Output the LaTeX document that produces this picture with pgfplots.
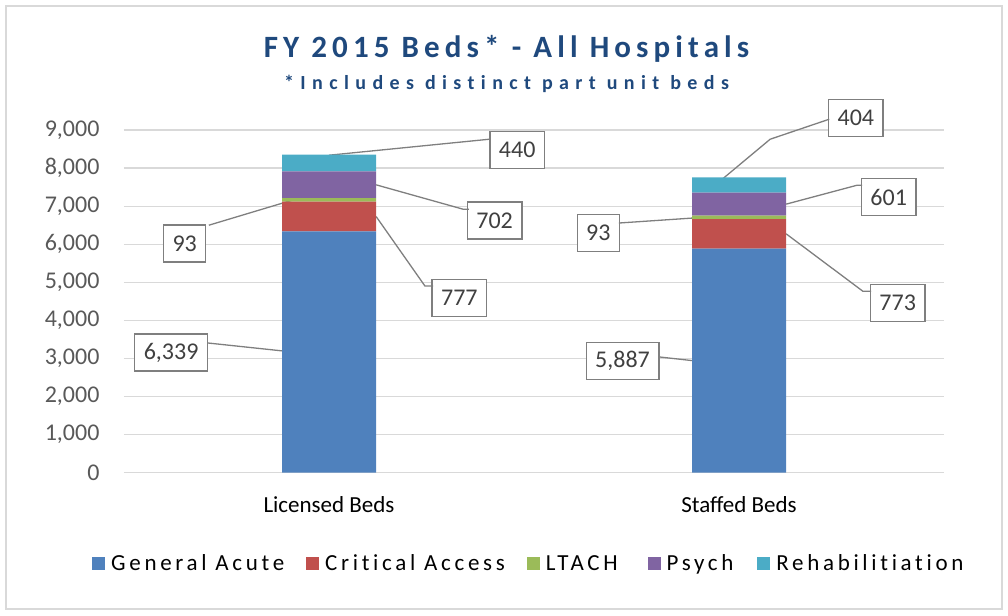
\documentclass[border=0pt]{standalone}
\usepackage{pgfplots}
\pgfplotsset{compat=1.18}
\usepackage{fontspec}
\setmainfont{Carlito}
\newfontfamily\titlefont[LetterSpace=16.5,Ligatures=NoCommon]{Carlito}
\newfontfamily\subfont[LetterSpace=32,Ligatures=NoCommon]{Carlito}
\newfontfamily\legfont[LetterSpace=16,Ligatures=NoCommon]{Carlito}
\definecolor{cBlue}{HTML}{4F81BD}
\definecolor{cRed}{HTML}{C0504D}
\definecolor{cGreen}{HTML}{9BBB59}
\definecolor{cPurple}{HTML}{8064A2}
\definecolor{cAqua}{HTML}{4BACC6}
\definecolor{titleblue}{HTML}{1F497D}
\definecolor{gridgray}{HTML}{D9D9D9}
\definecolor{framegray}{HTML}{D9D9D9}
\definecolor{tickgray}{HTML}{595959}
\definecolor{callgray}{HTML}{7F7F7F}
\definecolor{calltext}{HTML}{404040}
\tikzset{
  callout/.style={draw=callgray, line width=1.3pt, fill=white, text=calltext,
    font=\fontsize{24}{28}\selectfont, inner xsep=9pt, inner ysep=0pt, minimum height=37pt},
  leader/.style={draw=callgray, line width=1.3pt},
}
\begin{document}
\begin{tikzpicture}
\useasboundingbox (-124pt,-142.3pt) rectangle (884pt,472.7pt);
\draw[color=framegray, line width=1.5pt] (-118pt,-136.3pt) rectangle (878pt,466.7pt);
\begin{axis}[
  at={(0pt,0pt)}, anchor=south west,
  scale only axis, width=820pt, height=342.7pt,
  xmin=-0.5, xmax=1.5, ymin=0, ymax=9000,
  ytick={0,1000,...,9000},
  xtick={0,1}, xticklabels={Licensed Beds, Staffed Beds},
  ymajorgrids, grid style={gridgray, line width=1.3pt},
  axis line style={draw=none},
  major tick length=0pt,
  ybar stacked, bar width=94pt,
  clip=false,
  yticklabel style={font=\fontsize{24}{28}\selectfont, text=tickgray, xshift=-21pt},
  xticklabel style={font=\fontsize{23}{27}\selectfont, text=black, yshift=-20pt},
  /pgf/number format/1000 sep={,},
  /pgf/number format/assume math mode=true,
  legend columns=-1,
  legend style={at={(-0.039,-0.265)}, anchor=west, draw=none, fill=none,
    inner sep=0pt, font=\legfont\fontsize{23}{27}\selectfont,
    nodes={inner sep=0pt},
    /tikz/every even column/.append style={column sep=22pt},
    /tikz/every odd column/.append style={column sep=6pt}},
  legend image code/.code={\fill[#1] (0pt,-6.5pt) rectangle (13pt,6.5pt);},
]
\addplot[fill=cBlue, draw=none] coordinates {(0,6339) (1,5887)};
\addlegendentry{General Acute}
\addplot[fill=cRed, draw=none] coordinates {(0,777) (1,773)};
\addlegendentry{Critical Access}
\addplot[fill=cGreen, draw=none] coordinates {(0,93) (1,93)};
\addlegendentry{LTACH\rule{8pt}{0pt}}
\addplot[fill=cPurple, draw=none] coordinates {(0,702) (1,601)};
\addlegendentry{Psych\rule{2pt}{0pt}}
\addplot[fill=cAqua, draw=none] coordinates {(0,440) (1,404)};
\addlegendentry{Rehabilitiation}
% leader lines
\draw[leader] (axis cs:0,8338) -- (axis cs:0.393,8760);
\draw[leader] (axis cs:0.115,7560) -- (axis cs:0.327,6920) -- (axis cs:0.341,6920);
\draw[leader] (axis cs:0.115,6727) -- (axis cs:0.234,4903) -- (axis cs:0.254,4903);
\draw[leader] (axis cs:-0.293,6500) -- (axis cs:-0.088,7162);
\draw[leader] (axis cs:-0.295,3406) -- (axis cs:-0.088,3169);
\draw[leader] (axis cs:0.959,7707) -- (axis cs:1.076,8758) -- (axis cs:1.220,9283);
\draw[leader] (axis cs:1.115,7053) -- (axis cs:1.288,7550) -- (axis cs:1.300,7550);
\draw[leader] (axis cs:1.115,6273) -- (axis cs:1.302,4767) -- (axis cs:1.322,4767);
\draw[leader] (axis cs:0.707,6557) -- (axis cs:0.912,6706);
\draw[leader] (axis cs:0.807,3038) -- (axis cs:0.917,2907);
% callouts
\node[callout] at (axis cs:0.459,8474) {440};
\node[callout] at (axis cs:0.404,6623) {702};
\node[callout] at (axis cs:0.318,4588) {777};
\node[callout] at (axis cs:-0.352,6019) {93};
\node[callout] at (axis cs:-0.385,3157) {6,339};
\node[callout] at (axis cs:1.285,9313) {404};
\node[callout] at (axis cs:1.365,7240) {601};
\node[callout] at (axis cs:1.387,4457) {773};
\node[callout] at (axis cs:0.657,6294) {93};
\node[callout] at (axis cs:0.716,2933) {5,887};
\end{axis}
\node[text=titleblue, font=\titlefont\bfseries\fontsize{31}{35}\selectfont] at (382.5pt,423.7pt) {FY 2015 Beds* - All Hospitals};
\node[text=titleblue, font=\subfont\bfseries\fontsize{20}{24}\selectfont] at (382.5pt,388.7pt) {*Includes distinct part unit beds};
\end{tikzpicture}
\end{document}
